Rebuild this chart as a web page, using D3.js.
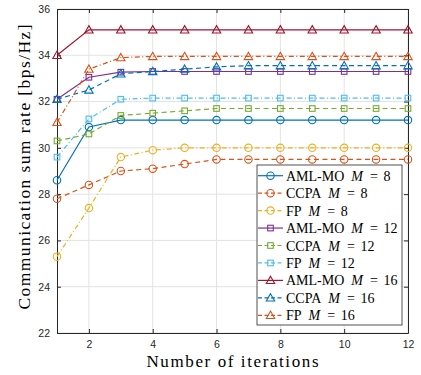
<!DOCTYPE html>
<html>
<head>
<meta charset="utf-8">
<script src="https://cdn.jsdelivr.net/npm/d3@7"></script>
<style>
  body { margin: 0; background: #fff; }
  svg { display: block; }
</style>
</head>
<body>
<div id="chart-area"></div>
<script>
var iterations = [1, 2, 3, 4, 5, 6, 7, 8, 9, 10, 11, 12];

var amlmo8  = [28.6, 30.9, 31.2, 31.2, 31.2, 31.2, 31.2, 31.2, 31.2, 31.2, 31.2, 31.2];
var ccpa8   = [27.8, 28.4, 29.0, 29.1, 29.3, 29.5, 29.5, 29.5, 29.5, 29.5, 29.5, 29.5];
var fp8     = [25.3, 27.4, 29.6, 29.9, 30.0, 30.0, 30.0, 30.0, 30.0, 30.0, 30.0, 30.0];
var amlmo12 = [32.1, 33.05, 33.27, 33.3, 33.3, 33.3, 33.3, 33.3, 33.3, 33.3, 33.3, 33.3];
var ccpa12  = [30.3, 30.6, 31.4, 31.5, 31.6, 31.7, 31.7, 31.7, 31.7, 31.7, 31.7, 31.7];
var fp12    = [29.6, 31.25, 32.1, 32.15, 32.15, 32.15, 32.15, 32.15, 32.15, 32.15, 32.15, 32.15];
var amlmo16 = [34.0, 35.1, 35.1, 35.1, 35.1, 35.1, 35.1, 35.1, 35.1, 35.1, 35.1, 35.1];
var ccpa16  = [32.1, 32.5, 33.2, 33.3, 33.4, 33.5, 33.55, 33.55, 33.55, 33.55, 33.55, 33.55];
var fp16    = [31.1, 33.4, 33.9, 33.95, 33.95, 33.95, 33.95, 33.95, 33.95, 33.95, 33.95, 33.95];

var xTicks = [2, 4, 6, 8, 10, 12];
var yTicks = [22, 24, 26, 28, 30, 32, 34, 36];

var series = [
	{ name: 'AML-MO', m: 8,  values: amlmo8,  color: '#0072BD', dash: null,          marker: 'circle' },
	{ name: 'CCPA',   m: 8,  values: ccpa8,   color: '#D95319', dash: '5,3.5',       marker: 'circle' },
	{ name: 'FP',     m: 8,  values: fp8,     color: '#EDB120', dash: '5,2.5,1,2.5', marker: 'circle' },
	{ name: 'AML-MO', m: 12, values: amlmo12, color: '#7E2F8E', dash: null,          marker: 'square' },
	{ name: 'CCPA',   m: 12, values: ccpa12,  color: '#77AC30', dash: '5,3.5',       marker: 'square' },
	{ name: 'FP',     m: 12, values: fp12,    color: '#4DBEEE', dash: '5,2.5,1,2.5', marker: 'square' },
	{ name: 'AML-MO', m: 16, values: amlmo16, color: '#A2142F', dash: null,          marker: 'triangle' },
	{ name: 'CCPA',   m: 16, values: ccpa16,  color: '#0072BD', dash: '5,3.5',       marker: 'triangle' },
	{ name: 'FP',     m: 16, values: fp16,    color: '#D95319', dash: '5,2.5,1,2.5', marker: 'triangle' }
];

var margin = { left: 57, right: 13, top: 9, bottom: 42 };
var width = 421 - margin.left - margin.right;
var height = 375 - margin.top - margin.bottom;

var svg = d3.select('#chart-area')
	.append('svg')
	.attr('width', 421)
	.attr('height', 375);

var g = svg.append('g')
	.attr('transform', `translate(${margin.left}, ${margin.top})`);

var x = d3.scaleLinear().domain([1, 12]).range([0, width]);
var y = d3.scaleLinear().domain([22, 36]).range([height, 0]);

// grid
g.append('g').selectAll('line')
	.data(xTicks)
	.enter().append('line')
	.attr('x1', d => x(d)).attr('x2', d => x(d))
	.attr('y1', 0).attr('y2', height)
	.attr('stroke', '#e3e3e3').attr('stroke-width', 1);
g.append('g').selectAll('line')
	.data(yTicks)
	.enter().append('line')
	.attr('x1', 0).attr('x2', width)
	.attr('y1', d => y(d)).attr('y2', d => y(d))
	.attr('stroke', '#e3e3e3').attr('stroke-width', 1);

// axes (ticks point inward, box on all sides)
var font = 'Liberation Sans, Arial, sans-serif';
function styleAxis(sel) {
	sel.selectAll('path').attr('stroke', '#262626').attr('stroke-width', 1);
	sel.selectAll('line').attr('stroke', '#262626');
	sel.selectAll('text').attr('fill', '#262626').attr('font-size', '10.5px').attr('font-family', font);
}

g.append('g')
	.attr('transform', `translate(0, ${height})`)
	.call(d3.axisBottom(x).tickValues(xTicks).tickSizeInner(-4).tickSizeOuter(0).tickPadding(8))
	.call(styleAxis);
g.append('g')
	.call(d3.axisTop(x).tickValues(xTicks).tickSizeInner(-4).tickSizeOuter(0).tickFormat(''))
	.call(styleAxis);
g.append('g')
	.call(d3.axisLeft(y).tickValues(yTicks).tickSizeInner(-4).tickSizeOuter(0).tickPadding(7))
	.call(styleAxis);
g.append('g')
	.attr('transform', `translate(${width}, 0)`)
	.call(d3.axisRight(y).tickValues(yTicks).tickSizeInner(-4).tickSizeOuter(0).tickFormat(''))
	.call(styleAxis);

// markers
function drawMarker(sel, type, cx, cy, color) {
	if (type == 'circle') {
		sel.append('circle').attr('cx', cx).attr('cy', cy).attr('r', 3.7)
			.attr('fill', 'none').attr('stroke', color).attr('stroke-width', 1.1);
	} else if (type == 'square') {
		sel.append('rect').attr('x', cx - 2.8).attr('y', cy - 2.8).attr('width', 5.6).attr('height', 5.6)
			.attr('fill', 'none').attr('stroke', color).attr('stroke-width', 1.1);
	} else {
		var s = 4.2;
		sel.append('path')
			.attr('d', `M${cx},${cy - s}L${cx + s},${cy + s * 0.75}L${cx - s},${cy + s * 0.75}Z`)
			.attr('fill', 'none').attr('stroke', color).attr('stroke-width', 1.1);
	}
}

var line = d3.line()
	.x((d, i) => x(iterations[i]))
	.y(d => y(d));

var plot = g.append('g');
series.forEach(s => {
	plot.append('path')
		.attr('d', line(s.values))
		.attr('fill', 'none')
		.attr('stroke', s.color)
		.attr('stroke-width', 1.2)
		.attr('stroke-dasharray', s.dash);
	s.values.forEach((v, i) => drawMarker(plot, s.marker, x(iterations[i]), y(v), s.color));
});

// legend
var serif = 'Liberation Serif, Times New Roman, serif';
var legend = svg.append('g').attr('transform', 'translate(257, 165)');
legend.append('rect')
	.attr('width', 145).attr('height', 160)
	.attr('fill', '#fff').attr('stroke', '#262626').attr('stroke-width', 0.8);

series.forEach((s, i) => {
	var row = legend.append('g').attr('transform', `translate(0, ${10.7 + i * 17.45})`);
	row.append('line')
		.attr('x1', 1).attr('x2', 26).attr('y1', 0).attr('y2', 0)
		.attr('stroke', s.color).attr('stroke-width', 1.2)
		.attr('stroke-dasharray', s.dash ? '4,2.5' : null);
	drawMarker(row, s.marker, 13.5, 0, s.color);
	var t = row.append('text')
		.attr('x', 29).attr('y', 5)
		.attr('font-family', serif).attr('font-size', '14px').attr('fill', '#000');
	t.append('tspan').text(s.name);
	t.append('tspan').attr('dx', 7).attr('font-style', 'italic').text('M');
	t.append('tspan').attr('dx', 7).text('=');
	t.append('tspan').attr('dx', 5.5).text(s.m);
});

// axis labels
svg.append('text')
	.attr('x', margin.left + width / 2)
	.attr('y', 367)
	.attr('text-anchor', 'middle')
	.attr('font-family', serif).attr('font-size', '17px')
	.attr('textLength', 172).attr('lengthAdjust', 'spacing')
	.text('Number of iterations');

svg.append('text')
	.attr('transform', `translate(30, ${margin.top + height / 2 - 4}) rotate(-90)`)
	.attr('text-anchor', 'middle')
	.attr('font-family', serif).attr('font-size', '17.5px')
	.attr('textLength', 285).attr('lengthAdjust', 'spacing')
	.text('Communication sum rate [bps/Hz]');
</script>
</body>
</html>
